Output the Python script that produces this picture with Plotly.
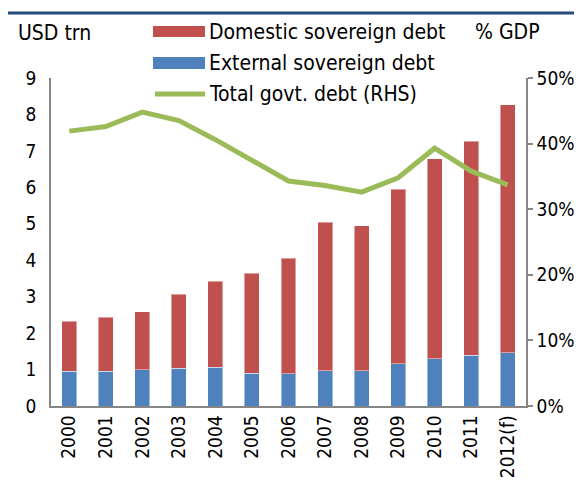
import plotly.graph_objects as go

# --- DATA ---
years = ['2000', '2001', '2002', '2003', '2004', '2005', '2006',
         '2007', '2008', '2009', '2010', '2011', '2012(f)']
external_debt = [0.95, 0.95, 1.00, 1.04, 1.06, 0.90, 0.89,
                 0.97, 0.97, 1.16, 1.30, 1.39, 1.46]
domestic_debt = [1.37, 1.49, 1.59, 2.02, 2.36, 2.74, 3.17,
                 4.07, 3.98, 4.79, 5.49, 5.87, 6.81]
total_govt_pct_gdp = [41.9, 42.6, 44.8, 43.5, 40.6, 37.5, 34.3,
                      33.6, 32.6, 34.8, 39.3, 35.8, 33.7]

RED = '#C0504D'
BLUE = '#4F81BD'
GREEN = '#9BBB59'
AXIS = '#868686'
FONT = 'DejaVu Sans Condensed, Liberation Sans, Arial, sans-serif'

W, H = 582, 481
L, R, T, B = 43, 64, 70, 83
PW, PH = W - L - R, H - T - B


def px(x):
    return (x - L) / PW


def py(y):
    return (H - B - y) / PH


fig = go.Figure()

# --- BARS (stacked) ---
fig.add_trace(go.Bar(x=years, y=external_debt, name='External sovereign debt',
                     marker=dict(color=BLUE, line=dict(color='rgba(255,255,255,0.45)', width=1))))
fig.add_trace(go.Bar(x=years, y=domestic_debt, name='Domestic sovereign debt',
                     marker=dict(color=RED, line=dict(color='rgba(255,255,255,0.45)', width=1))))

# --- LINE (RHS) ---
fig.add_trace(go.Scatter(x=years, y=total_govt_pct_gdp, name='Total govt. debt (RHS)',
                         yaxis='y2', mode='lines', line=dict(color=GREEN, width=5)))

# --- hand-made legend (wide swatches like the original) ---
shapes = [
    dict(type='line', xref='paper', yref='paper', x0=px(0), x1=px(W), y0=py(5), y1=py(5),
         line=dict(color='#254B7C', width=3)),
    dict(type='rect', xref='paper', yref='paper', x0=px(145), x1=px(197), y0=py(18), y1=py(29),
         fillcolor=RED, line=dict(width=0)),
    dict(type='rect', xref='paper', yref='paper', x0=px(145), x1=px(197), y0=py(49), y1=py(61),
         fillcolor=BLUE, line=dict(width=0)),
    dict(type='line', xref='paper', yref='paper', x0=px(147), x1=px(197), y0=py(86), y1=py(86),
         line=dict(color=GREEN, width=5)),
]

labels = [
    ('USD trn', 8, 25),
    ('Domestic sovereign debt', 199, 24),
    ('External sovereign debt', 199, 55),
    ('Total govt. debt (RHS)', 199, 86),
    ('% GDP', 465, 24),
]
annotations = [dict(text=t, xref='paper', yref='paper', x=px(x), y=py(y),
                    xanchor='left', yanchor='middle', showarrow=False,
                    font=dict(size=21, color='black', family=FONT))
               for t, x, y in labels]

tick_font = dict(family=FONT, size=19, color='black')

fig.update_layout(
    barmode='stack',
    bargap=0.59,
    showlegend=False,
    width=W, height=H,
    margin=dict(l=L, r=R, t=T, b=B, autoexpand=False),
    paper_bgcolor='white', plot_bgcolor='white',
    font=dict(family=FONT, size=21, color='black'),
    xaxis=dict(type='category', range=[-0.5, 12.5], tickangle=-90, tickfont=tick_font,
               showline=True, linecolor=AXIS, linewidth=1.5, ticks='',
               showgrid=False, ticklabelstandoff=0),
    yaxis=dict(range=[0, 9], dtick=1, tickfont=tick_font,
               showline=True, linecolor=AXIS, linewidth=1.5,
               ticks='', showgrid=False, zeroline=False, ticklabelstandoff=9),
    yaxis2=dict(range=[0, 50], dtick=10, ticksuffix='%', overlaying='y', side='right',
                tickfont=tick_font,
                showline=True, linecolor=AXIS, linewidth=1.5, ticks='outside',
                ticklen=5, tickcolor=AXIS, tickwidth=1.5, showgrid=False,
                zeroline=False, ticklabelstandoff=0),
    shapes=shapes,
    annotations=annotations,
)

fig.write_html('out.html')
